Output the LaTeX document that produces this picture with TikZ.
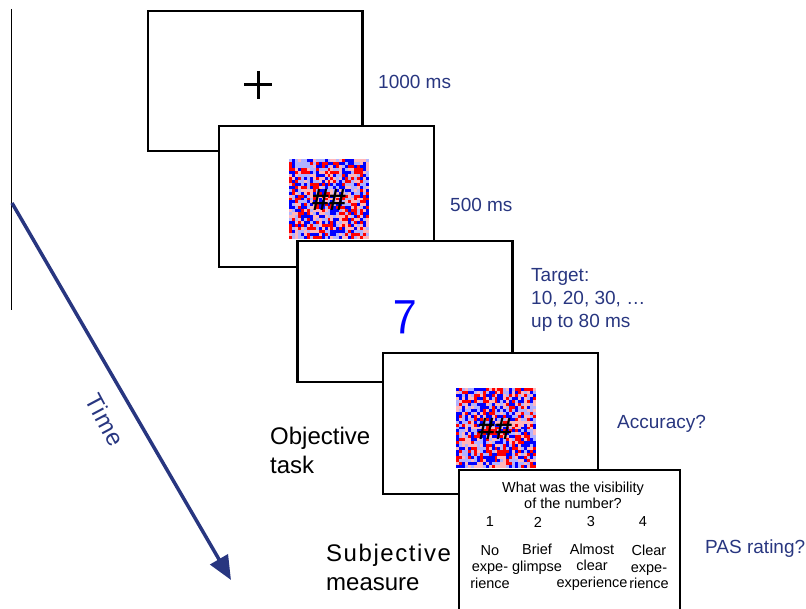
\documentclass[tikz,border=0pt]{standalone}
\usepackage{fontspec}
\setmainfont{Liberation Sans}
\usetikzlibrary{arrows.meta}

\definecolor{timeblue}{RGB}{40,54,128}
\definecolor{noise1}{RGB}{255,0,0}
\definecolor{noise2}{RGB}{0,0,255}
\definecolor{noise3}{RGB}{255,182,186}
\definecolor{noise4}{RGB}{176,178,255}

% random coloured mask, #1/#2 = top left corner
\newcommand{\noisemask}[2]{%
  \foreach \i in {0,...,26}{
    \foreach \j in {0,...,26}{
      \pgfmathrandominteger{\maskcol}{1}{4}
      \fill[fill=noise\maskcol] ({#1+\i*2.963},{#2+\j*2.963}) rectangle ++(3.2,3.2);
    }
  }
}

\begin{document}
\pgfmathsetseed{4711}
\begin{tikzpicture}[x = 1pt, y = -1pt,
    screen/.style = {draw, line width=2.5pt, fill=white, minimum width=215pt, minimum height=141pt, inner sep=0pt},
    delay/.style = {text=timeblue, font=\fontsize{19}{23}\selectfont, anchor=west, align=left, inner sep=0pt},
    task/.style = {font=\fontsize{24}{29}\selectfont, anchor=west, align=left, inner sep=0pt},
    pas/.style = {font=\fontsize{14.5}{16.5}\selectfont, align=center, inner sep=0pt},
    hash/.style = {font=\bfseries\fontsize{31}{31}\selectfont, inner sep=0pt}]
    \useasboundingbox (0,0) rectangle (806,609);
    \clip (0,0) rectangle (806,609);

    % time axis
    \coordinate (axtop) at (11,9);
    \coordinate (axbot) at (11,310);
    \draw[line width=1pt] (axtop) -- (axbot);
    \coordinate (tstart) at (12,203);
    \coordinate (tend) at (231,580);
    \draw[timeblue, line width=3.5pt, -{Triangle[length=24pt, width=20pt]}] (tstart) -- (tend);
    \node[text=timeblue, font=\addfontfeature{LetterSpace=4}\fontsize{24}{24}\selectfont, rotate=-62] (time) at (105,420) {Time};

    % screens
    \node[screen, minimum width=214.5pt, minimum height=140pt] (fixscreen) at (255,81) {};
    \draw[line width=3pt] (258,71) -- (258,99) (244,85) -- (272,85);

    \node[screen] (maskscreen) at (326.5,196.5) {};
    \noisemask{289}{159}
    \node[hash] (hashA) at (329,200) {\#\#};

    \node[screen] (targetscreen) at (405,311.5) {};
    \node[text=blue, font=\sffamily\fontsize{50}{50}\selectfont] (digit) at (405,317) {7};

    \node[screen] (backmask) at (490.5,423.5) {};
    \noisemask{456}{388}
    \node[hash] (hashB) at (495,429) {\#\#};

    \node[screen, minimum width=221pt, minimum height=142pt] (passcreen) at (569.5,541) {};
    \node[pas] (question) at (573,495.5) {What was the visibility\\of the number?};
    \foreach \k/\x in {1/490, 2/538, 3/591, 4/643}
        \node[pas] (num\k) at (\x,522) {\k};
    \node[pas] (opt1) at (490,567) {No\\expe-\\rience};
    \node[pas] (opt2) at (537,559) {Brief\\glimpse};
    \node[pas] (opt3) at (592,567) {Almost\\clear\\experience};
    \node[pas] (opt4) at (649,567) {Clear\\expe-\\rience};

    % durations and questions
    \node[delay] (fixtime) at (378,82) {1000 ms};
    \node[delay] (masktime) at (450,205) {500 ms};
    \node[delay] (targettime) at (531,300) {Target:\\10, 20, 30, …\\up to 80 ms};
    \node[delay] (accuracy) at (617,424) {Accuracy?};
    \node[delay] (pasrating) at (705,549) {PAS rating?};
    \node[task] (objective) at (270,450) {Objective\\task};
    \node[task] (subjective) at (326,567) {{\addfontfeature{LetterSpace=6.5}Subjective}\\measure};
\end{tikzpicture}
\end{document}
